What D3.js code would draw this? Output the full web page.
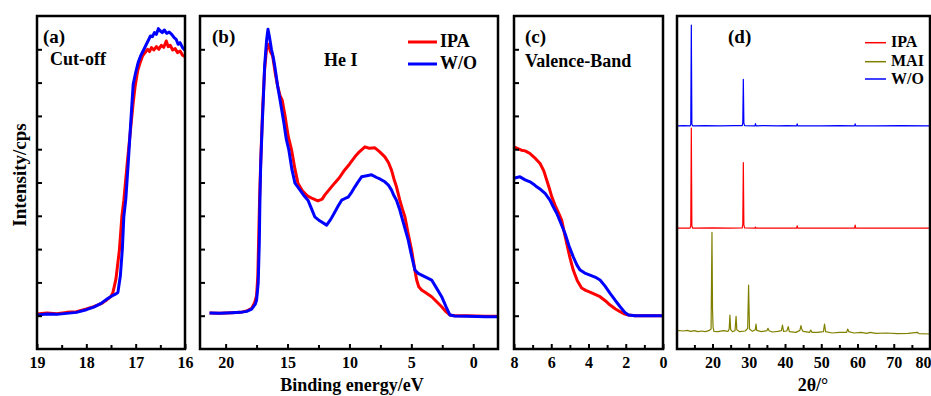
<!DOCTYPE html>
<html>
<head>
<meta charset="utf-8">
<script src="https://cdn.jsdelivr.net/npm/d3@7"></script>
<style>
  body { margin: 0; background: #fff; }
  text { font-family: "Liberation Serif", "Times New Roman", serif; font-weight: bold; fill: #000; }
</style>
</head>
<body>
<svg id="chart" width="931" height="396"></svg>
<script>
// ---- datos: [x, intensidad (unidades de tick)] ----
const cutoffIPA = [[19.0,1.05],[18.8,1.08],[18.6,1.06],[18.4,1.1],[18.2,1.12],[18.0,1.2],[17.85,1.27],[17.7,1.36],[17.58,1.48],[17.5,1.58],[17.46,1.7],[17.4,2.1],[17.33,2.97],[17.28,3.97],[17.24,4.47],[17.17,5.6],[17.11,6.5],[17.05,7.4],[17.01,7.9],[16.96,8.35],[16.91,8.6],[16.86,8.8],[16.81,8.9],[16.76,9.0],[16.72,8.93],[16.68,9.05],[16.63,8.98],[16.58,9.08],[16.53,9.0],[16.48,9.12],[16.43,9.06],[16.38,9.25],[16.34,9.08],[16.3,9.12],[16.25,8.98],[16.2,9.02],[16.15,8.9],[16.1,8.95],[16.05,8.82],[16.0,8.78]];
const cutoffWO = [[19.0,1.02],[18.8,1.05],[18.6,1.04],[18.4,1.07],[18.2,1.1],[18.0,1.18],[17.85,1.26],[17.7,1.37],[17.58,1.5],[17.5,1.58],[17.42,1.64],[17.36,1.7],[17.31,2.2],[17.27,3.0],[17.24,3.97],[17.2,4.5],[17.15,5.6],[17.1,6.8],[17.05,7.95],[17.0,8.3],[16.95,8.6],[16.9,8.8],[16.85,8.95],[16.8,9.1],[16.75,9.25],[16.7,9.4],[16.66,9.38],[16.62,9.5],[16.58,9.45],[16.54,9.62],[16.5,9.55],[16.46,9.5],[16.42,9.58],[16.37,9.48],[16.32,9.52],[16.27,9.45],[16.22,9.35],[16.18,9.3],[16.14,9.15],[16.1,9.2],[16.05,9.05],[16.0,8.97]];

const heIPA = [[21.3,1.08],[20.5,1.07],[19.5,1.09],[18.8,1.1],[18.3,1.14],[17.9,1.22],[17.65,1.4],[17.5,1.6],[17.4,2.2],[17.32,3.5],[17.25,4.6],[17.15,5.8],[17.0,7.3],[16.85,8.4],[16.7,9.0],[16.55,9.15],[16.4,8.95],[16.2,8.8],[16.0,8.3],[15.8,7.9],[15.6,7.6],[15.43,7.47],[15.2,7.0],[14.95,6.4],[14.67,5.97],[14.4,5.4],[14.16,4.98],[13.8,4.75],[13.4,4.6],[13.0,4.52],[12.55,4.45],[12.2,4.5],[12.0,4.62],[11.6,4.8],[11.2,4.98],[10.8,5.15],[10.4,5.37],[10.0,5.55],[9.56,5.77],[9.2,5.92],[8.75,6.07],[8.4,6.03],[7.94,6.04],[7.55,5.92],[7.14,5.77],[6.85,5.6],[6.6,5.37],[6.4,5.1],[6.2,4.87],[5.93,4.47],[5.72,4.2],[5.52,3.97],[5.25,3.45],[4.98,2.97],[4.75,2.45],[4.57,2.07],[4.4,1.87],[4.17,1.77],[3.8,1.68],[3.36,1.57],[2.95,1.42],[2.55,1.27],[2.2,1.12],[1.88,1.02],[1.5,1.0],[0.5,1.0],[-1.0,0.98],[-2.0,0.98]];
const heWO = [[21.3,1.08],[20.5,1.07],[19.5,1.09],[18.8,1.1],[18.3,1.13],[17.9,1.2],[17.6,1.35],[17.5,1.47],[17.37,1.98],[17.28,3.2],[17.23,4.47],[17.17,5.5],[17.05,6.7],[16.96,7.47],[16.85,8.5],[16.69,9.28],[16.58,9.6],[16.45,9.35],[16.3,9.0],[16.15,8.75],[16.02,8.47],[15.8,7.9],[15.6,7.47],[15.3,6.8],[15.1,6.3],[14.89,5.97],[14.65,5.4],[14.4,4.98],[14.0,4.78],[13.7,4.62],[13.35,4.47],[13.05,4.2],[12.8,3.97],[12.4,3.85],[11.84,3.72],[11.5,3.9],[11.2,4.1],[10.9,4.3],[10.63,4.47],[10.35,4.52],[10.1,4.56],[9.8,4.72],[9.56,4.87],[9.3,5.02],[9.02,5.17],[8.6,5.2],[8.21,5.23],[7.8,5.15],[7.5,5.1],[7.14,5.02],[6.85,4.92],[6.6,4.77],[6.4,4.6],[6.2,4.47],[5.95,4.2],[5.78,3.97],[5.5,3.6],[5.25,3.27],[4.98,2.8],[4.71,2.37],[4.45,2.27],[4.17,2.22],[3.8,2.15],[3.36,2.07],[3.0,1.85],[2.55,1.57],[2.2,1.27],[1.88,1.02],[1.5,0.99],[0.5,0.98],[-1.0,0.97],[-2.0,0.97]];

const vbIPA = [[8.0,6.07],[7.8,6.02],[7.6,5.97],[7.4,5.95],[7.14,5.87],[6.9,5.75],[6.6,5.57],[6.4,5.35],[6.24,5.07],[6.1,4.82],[5.97,4.57],[5.8,4.32],[5.62,4.1],[5.44,3.87],[5.3,3.5],[5.17,3.17],[5.0,2.75],[4.82,2.37],[4.6,2.05],[4.37,1.83],[4.15,1.76],[3.92,1.71],[3.65,1.64],[3.38,1.57],[3.1,1.45],[2.84,1.32],[2.55,1.2],[2.3,1.12],[2.05,1.05],[1.85,1.02],[1.5,1.0],[1.0,1.0],[0.5,1.0],[0.0,1.0]];
const vbWO = [[8.0,5.13],[7.85,5.15],[7.68,5.17],[7.4,5.08],[7.14,5.02],[6.95,4.95],[6.78,4.87],[6.55,4.78],[6.33,4.67],[6.07,4.47],[5.9,4.28],[5.7,4.07],[5.5,3.8],[5.26,3.47],[5.05,3.1],[4.82,2.77],[4.62,2.52],[4.45,2.37],[4.2,2.28],[3.92,2.22],[3.65,2.16],[3.38,2.07],[3.1,1.88],[2.84,1.67],[2.55,1.45],[2.3,1.27],[2.05,1.1],[1.85,1.02],[1.5,1.0],[1.0,1.0],[0.5,1.0],[0.0,1.0]];

// XRD (2θ, intensidad desplazada)
const xrdWO = [[10.2,6.7],[12,6.71],[13.8,6.7],[14.0,6.75],[14.15,9.73],[14.3,6.76],[14.5,6.7],[18,6.71],[22,6.7],[26,6.71],[28.2,6.71],[28.35,6.8],[28.5,8.1],[28.65,6.78],[28.85,6.71],[31.7,6.7],[31.85,6.77],[32.0,6.7],[34,6.71],[38,6.7],[40.5,6.71],[43.2,6.7],[43.35,6.76],[43.5,6.7],[50,6.7],[55,6.71],[59.2,6.7],[59.35,6.76],[59.5,6.7],[65,6.7],[72,6.71],[80,6.7]];
const xrdIPA = [[10.2,3.63],[13.8,3.63],[14.0,3.7],[14.15,6.63],[14.3,3.7],[14.5,3.63],[20,3.64],[25,3.63],[28.2,3.64],[28.35,3.75],[28.5,5.6],[28.65,3.73],[28.85,3.64],[31.7,3.63],[31.85,3.66],[32.0,3.63],[35,3.63],[43.2,3.63],[43.35,3.7],[43.5,3.63],[50,3.63],[59.2,3.63],[59.35,3.72],[59.5,3.63],[70,3.63],[80,3.63]];
const xrdMAI = [[10.2,0.56],[11,0.55],[12,0.54],[13,0.56],[14,0.53],[15,0.55],[16,0.52],[17,0.54],[18,0.52],[19,0.55],[19.6,0.6],[19.85,3.5],[20.0,1.2],[20.15,0.65],[20.4,0.53],[21.5,0.52],[23,0.55],[24.3,0.53],[24.6,0.6],[24.8,1.02],[25.0,0.58],[25.5,0.52],[26.2,0.55],[26.5,0.98],[26.7,0.58],[27.5,0.52],[29.0,0.54],[29.7,0.62],[29.95,1.92],[30.2,0.6],[31.0,0.53],[31.8,0.58],[32.0,0.75],[32.2,0.56],[33.5,0.52],[35.0,0.55],[35.3,0.62],[35.6,0.55],[36.5,0.51],[38.0,0.53],[39.0,0.55],[39.3,0.72],[39.6,0.53],[40.5,0.54],[40.9,0.67],[41.2,0.52],[43,0.5],[44.1,0.56],[44.4,0.7],[44.6,0.6],[45,0.53],[46.8,0.5],[47.1,0.57],[47.4,0.5],[49,0.5],[50.6,0.52],[50.9,0.75],[51.2,0.52],[53,0.48],[55,0.5],[57.0,0.5],[57.3,0.6],[57.6,0.52],[59,0.48],[61,0.5],[62.5,0.47],[63.5,0.5],[65,0.47],[68,0.48],[71,0.46],[74,0.47],[76.5,0.5],[77,0.46],[80,0.45]];

// ---- ticks ----
const ticksA = [19, 18, 17, 16], minorA = [18.5, 17.5, 16.5];
const ticksB = [20, 15, 10, 5, 0], minorB = [17.5, 12.5, 7.5, 2.5];
const ticksC = [8, 6, 4, 2, 0], minorC = [7, 5, 3, 1];
const ticksD = [20, 30, 40, 50, 60, 70, 80], minorD = [15, 25, 35, 45, 55, 65, 75];
const yTickValues = [1, 2, 3, 4, 5, 6, 7, 8, 9];

const RED = "#ff0000", BLUE = "#0000ff", OLIVE = "#808000";
const SERIF = '"Liberation Serif", "Times New Roman", serif';

const svg = d3.select("#chart");
const TOP = 16, BOTTOM = 349;
const y = d3.scaleLinear().domain([0, 10]).range([BOTTOM, TOP]);

function drawPanel({ left, right, domain, major, minor, yTicks, series, lw }) {
  const x = d3.scaleLinear().domain(domain).range([left, right]);
  const g = svg.append("g");

  const line = d3.line().x(d => x(d[0])).y(d => y(d[1]));
  series.forEach(s => {
    g.append("path").datum(s.data)
      .attr("d", line)
      .attr("fill", "none")
      .attr("stroke", s.color)
      .attr("stroke-width", lw)
      .attr("stroke-linejoin", "round");
  });

  // eje x, ticks hacia dentro
  const ax = g.append("g").attr("transform", `translate(0,${BOTTOM})`)
    .call(d3.axisBottom(x).tickValues(major).tickSize(-5).tickPadding(8).tickFormat(d3.format("d")));
  ax.attr("font-family", null).attr("font-size", null);
  ax.selectAll("text")
    .style("font-family", SERIF)
    .style("font-weight", "bold")
    .style("font-size", "16px");
  // el ultimo rotulo queda dentro del borde derecho
  ax.selectAll("text").filter(d => d === 80).attr("text-anchor", "end").attr("x", 1);
  const axm = g.append("g").attr("transform", `translate(0,${BOTTOM})`)
    .call(d3.axisBottom(x).tickValues(minor).tickSize(-4).tickFormat(""));
  [ax, axm].forEach(a => {
    a.select(".domain").remove();
    a.selectAll("line").attr("stroke", "#000").attr("stroke-width", 2);
  });

  if (yTicks) {
    const ay = g.append("g").attr("transform", `translate(${left},0)`)
      .call(d3.axisLeft(y).tickValues(yTicks).tickSize(-5).tickFormat(""));
    ay.select(".domain").remove();
    ay.selectAll("line").attr("stroke", "#000").attr("stroke-width", 2);
  }

  g.append("rect")
    .attr("x", left).attr("y", TOP)
    .attr("width", right - left).attr("height", BOTTOM - TOP)
    .attr("fill", "none").attr("stroke", "#000").attr("stroke-width", 2.5);
  return g;
}

drawPanel({ left: 37, right: 185, domain: [19, 16], major: ticksA, minor: minorA, yTicks: yTickValues,
  series: [{ data: cutoffIPA, color: RED }, { data: cutoffWO, color: BLUE }], lw: 3 });
drawPanel({ left: 200, right: 498, domain: [22.07, -2], major: ticksB, minor: minorB, yTicks: yTickValues,
  series: [{ data: heIPA, color: RED }, { data: heWO, color: BLUE }], lw: 3 });
drawPanel({ left: 514, right: 663, domain: [8, 0], major: ticksC, minor: minorC, yTicks: yTickValues,
  series: [{ data: vbIPA, color: RED }, { data: vbWO, color: BLUE }], lw: 3 });
drawPanel({ left: 677, right: 930, domain: [10.2, 80], major: ticksD, minor: minorD, yTicks: null,
  series: [{ data: xrdMAI, color: OLIVE }, { data: xrdIPA, color: RED }, { data: xrdWO, color: BLUE }], lw: 1.2 });

// ---- textos ----
function label(x, yy, txt, size) {
  return svg.append("text").attr("x", x).attr("y", yy).style("font-size", size + "px").text(txt);
}
label(43, 43, "(a)", 19);
label(50, 65, "Cut-off", 18);
label(212, 43, "(b)", 19);
label(324, 66, "He I", 18);
label(525, 43, "(c)", 19);
label(525, 67, "Valence-Band", 18);
label(728, 43, "(d)", 19);

// leyenda (b)
[["IPA", RED, 42, 47], ["W/O", BLUE, 64, 69]].forEach(([t, c, ly, ty]) => {
  svg.append("line").attr("x1", 408).attr("x2", 437).attr("y1", ly).attr("y2", ly)
    .attr("stroke", c).attr("stroke-width", 3);
  label(440, ty, t, 18);
});
// leyenda (d)
[["IPA", RED, 42.7, 47], ["MAI", OLIVE, 61.7, 66], ["W/O", BLUE, 79, 83.5]].forEach(([t, c, ly, ty]) => {
  svg.append("line").attr("x1", 865).attr("x2", 886).attr("y1", ly).attr("y2", ly)
    .attr("stroke", c).attr("stroke-width", 1.5);
  label(891, ty, t, 16);
});

svg.append("text")
  .attr("transform", "translate(26,175) rotate(-90)")
  .attr("text-anchor", "middle")
  .style("font-size", "19px")
  .text("Intensity/cps");
svg.append("text").attr("x", 352).attr("y", 391).attr("text-anchor", "middle")
  .style("font-size", "18px").text("Binding energy/eV");
svg.append("text").attr("x", 813).attr("y", 391).attr("text-anchor", "middle")
  .style("font-size", "18px").text("2θ/°");
</script>
</body>
</html>
